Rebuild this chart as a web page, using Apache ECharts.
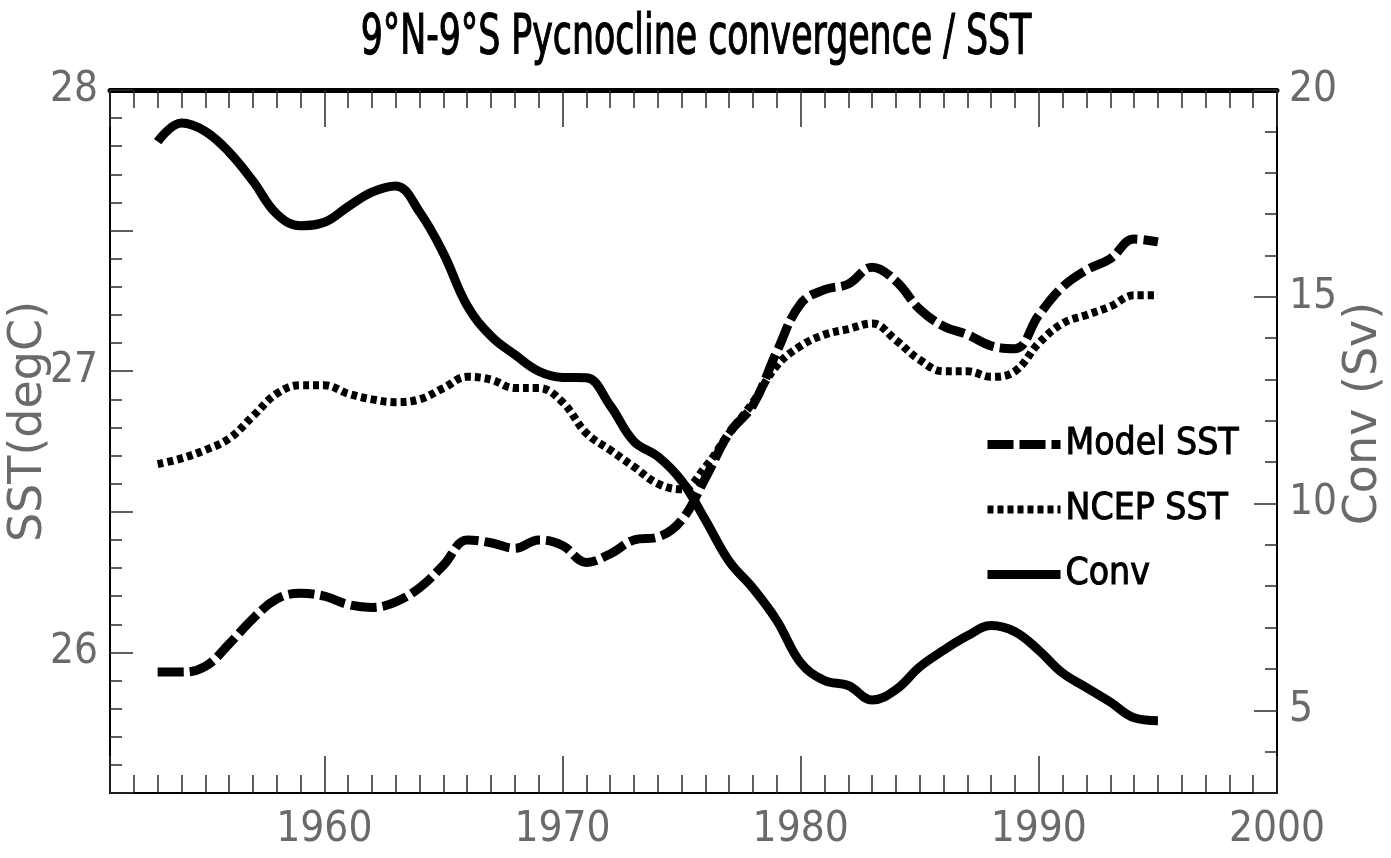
<!DOCTYPE html>
<html>
<head>
<meta charset="utf-8">
<script src="https://cdn.jsdelivr.net/npm/echarts@6/dist/echarts.min.js"></script>
<style>
  html, body { margin: 0; padding: 0; background: #ffffff; }
  #chart { width: 1391px; height: 858px; }
</style>
</head>
<body>
<div id="chart"></div>
<script>
// Annual values, 1953-1995
const years = [1953,1954,1955,1956,1957,1958,1959,1960,1961,1962,
               1963,1964,1965,1966,1967,1968,1969,1970,1971,1972,
               1973,1974,1975,1976,1977,1978,1979,1980,1981,1982,
               1983,1984,1985,1986,1987,1988,1989,1990,1991,1992,
               1993,1994,1995];

// Model SST (degC)
const modelSST = [25.93,25.93,25.95,26.03,26.12,26.19,26.21,26.20,26.17,26.16,
                  26.18,26.23,26.31,26.40,26.39,26.37,26.40,26.38,26.32,26.35,
                  26.40,26.41,26.47,26.62,26.78,26.88,27.07,27.24,27.29,27.31,
                  27.37,27.32,27.22,27.16,27.13,27.09,27.08,27.20,27.30,27.36,
                  27.40,27.47,27.46];

// NCEP SST (degC)
const ncepSST = [26.67,26.69,26.72,26.76,26.84,26.92,26.95,26.95,26.92,26.90,
                 26.89,26.90,26.94,26.98,26.97,26.94,26.94,26.89,26.78,26.72,
                 26.66,26.60,26.58,26.66,26.78,26.89,27.02,27.09,27.13,27.15,
                 27.17,27.11,27.04,27.00,27.00,26.98,27.00,27.10,27.17,27.20,
                 27.23,27.27,27.27];

// Pycnocline convergence (Sv)
const conv = [18.75,19.20,19.00,18.50,17.80,17.00,16.72,16.80,17.18,17.53,
              17.68,17.05,16.05,14.78,14.05,13.60,13.20,13.05,13.04,12.37,
              11.50,11.14,10.55,9.60,8.60,7.95,7.17,6.15,5.72,5.60,
              5.25,5.50,6.05,6.45,6.80,7.05,6.90,6.45,5.90,5.55,
              5.20,4.82,4.75];

// Tick labels
const yearLabels = [1960, 1970, 1980, 1990, 2000];
const sstLabels = [26, 27, 28];
const convLabels = [5, 10, 15, 20];

const titleText = '9°N-9°S Pycnocline convergence / SST';

const condensed = "'DejaVu Sans Condensed', 'Liberation Sans Narrow', 'Liberation Sans', sans-serif";
const labelGrey = '#6a6a6a';
const tickColor = '#2a2a2a';

const pairs = (vals) => years.map((y, i) => [y, vals[i]]);
const pick = (list) => (v) => (list.indexOf(Math.round(v * 1000) / 1000) >= 0 ? String(v) : '');

function xAxisDef(pos, lineWidth, showLabels) {
  return {
    type: 'value', position: pos, min: 1951, max: 2000, splitNumber: 5,
    axisLine: { show: true, onZero: false, lineStyle: { color: '#000', width: lineWidth } },
    axisTick: { show: true, inside: true, length: 37, lineStyle: { color: tickColor, width: 1.5 } },
    minorTick: { show: true, splitNumber: 10, length: 18, lineStyle: { color: tickColor, width: 1.5 } },
    axisLabel: {
      show: showLabels, margin: 16, showMinLabel: false,
      formatter: pick(yearLabels),
      color: labelGrey, fontSize: 42, fontFamily: condensed
    },
    splitLine: { show: false }, minorSplitLine: { show: false }
  };
}

function yAxisDef(pos, min, max, split, name, labels) {
  const left = pos === 'left';
  return {
    type: 'value', position: pos, min: min, max: max, splitNumber: split,
    name: name, nameLocation: 'middle', nameRotate: 90,
    nameGap: left ? 58 : 64, nameMoveOverlap: false,
    nameTextStyle: {
      fontSize: 46, color: labelGrey, fontFamily: "'DejaVu Sans', sans-serif",
      padding: left ? [0, 0, 0, 40] : [0, 0, 0, 56]
    },
    axisLine: { show: true, lineStyle: { color: '#000', width: 2 } },
    axisTick: { show: true, inside: true, length: 23, lineStyle: { color: tickColor, width: 1.5 } },
    minorTick: { show: true, splitNumber: 5, length: 12, lineStyle: { color: tickColor, width: 1.5 } },
    axisLabel: { margin: 12, formatter: pick(labels), color: labelGrey, fontSize: 42, fontFamily: condensed },
    splitLine: { show: false }, minorSplitLine: { show: false }
  };
}

const chart = echarts.init(document.getElementById('chart'), null, { renderer: 'canvas' });

chart.setOption({
  backgroundColor: '#ffffff',
  animation: false,
  graphic: [{
    type: 'text', x: 696, y: 38, scaleX: 0.69, z: 10,
    style: {
      text: titleText, fill: '#000', stroke: '#000', lineWidth: 1.2,
      font: "56px 'DejaVu Sans Condensed', 'Liberation Sans', sans-serif",
      align: 'center', verticalAlign: 'middle'
    }
  }],
  grid: { left: 110, right: 114, top: 90, bottom: 65, outerBoundsMode: 'none', containLabel: false },
  legend: {
    orient: 'vertical', left: 983, top: 423, padding: 0,
    itemWidth: 73, itemHeight: 12, itemGap: 22,
    lineStyle: { width: 'inherit' },
    itemStyle: { opacity: 0 },
    textStyle: {
      fontSize: 37, lineHeight: 43, fontFamily: condensed, color: '#000',
      textBorderColor: '#000', textBorderWidth: 1
    },
    data: ['Model SST', 'NCEP SST', 'Conv']
  },
  xAxis: [xAxisDef('bottom', 2, true), xAxisDef('top', 5, false)],
  yAxis: [
    yAxisDef('left', 25.5, 28, 5, 'SST(degC)', sstLabels),
    yAxisDef('right', 3, 20, 3, 'Conv (Sv)', convLabels)
  ],
  series: [
    {
      name: 'Model SST', type: 'line', xAxisIndex: 0, yAxisIndex: 0,
      data: pairs(modelSST), smooth: 0.4, symbol: 'none', z: 2,
      itemStyle: { color: '#000' },
      lineStyle: { color: '#000', width: 9, type: [26, 6], cap: 'butt' }
    },
    {
      name: 'NCEP SST', type: 'line', xAxisIndex: 0, yAxisIndex: 0,
      data: pairs(ncepSST), smooth: 0.4, symbol: 'none', z: 2,
      itemStyle: { color: '#000' },
      lineStyle: { color: '#000', width: 8, type: [6, 4], cap: 'butt' }
    },
    {
      name: 'Conv', type: 'line', xAxisIndex: 0, yAxisIndex: 1,
      data: pairs(conv), smooth: 0.4, symbol: 'none', z: 3,
      itemStyle: { color: '#000' },
      lineStyle: { color: '#000', width: 9, type: 'solid', cap: 'butt' }
    }
  ]
});
</script>
</body>
</html>
